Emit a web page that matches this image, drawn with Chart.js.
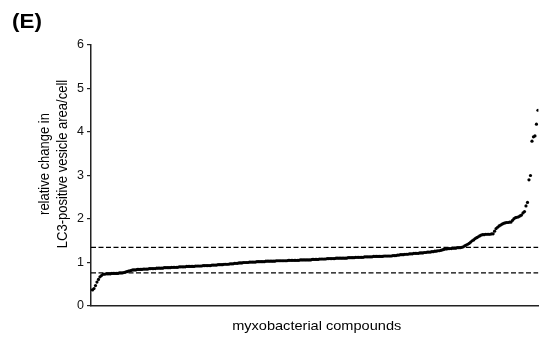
<!DOCTYPE html>
<html>
<head>
<meta charset="utf-8">
<script src="https://cdn.jsdelivr.net/npm/chart.js@4.4.1/dist/chart.umd.min.js"></script>
<style>
  html, body { margin: 0; padding: 0; background: #fff; }
  #wrap { width: 540px; height: 337px; position: relative; }
</style>
</head>
<body>
<div id="wrap"><canvas id="screen"></canvas></div>
<script>
// values sorted by rank
const relChange = [
  0.37, 0.40, 0.47, 0.55, 0.61, 0.67, 0.70, 0.73, 0.73, 0.74,
  0.74, 0.74, 0.74, 0.75, 0.75, 0.75, 0.75, 0.75, 0.76, 0.76,
  0.76, 0.77, 0.78, 0.79, 0.80, 0.81, 0.82, 0.83, 0.83, 0.83,
  0.84, 0.84, 0.84, 0.84, 0.85, 0.85, 0.85, 0.85, 0.86, 0.86,
  0.86, 0.86, 0.86, 0.87, 0.87, 0.87, 0.87, 0.87, 0.88, 0.88,
  0.88, 0.88, 0.88, 0.89, 0.89, 0.89, 0.89, 0.89, 0.90, 0.90,
  0.90, 0.90, 0.90, 0.91, 0.91, 0.91, 0.91, 0.91, 0.91, 0.92,
  0.92, 0.92, 0.92, 0.92, 0.93, 0.93, 0.93, 0.93, 0.93, 0.93,
  0.94, 0.94, 0.94, 0.94, 0.95, 0.95, 0.95, 0.95, 0.96, 0.96,
  0.96, 0.96, 0.97, 0.97, 0.97, 0.98, 0.98, 0.98, 0.99, 0.99,
  0.99, 1.00, 1.00, 1.00, 1.00, 1.01, 1.01, 1.01, 1.01, 1.01,
  1.02, 1.02, 1.02, 1.02, 1.02, 1.02, 1.03, 1.03, 1.03, 1.03,
  1.03, 1.03, 1.03, 1.04, 1.04, 1.04, 1.04, 1.04, 1.04, 1.04,
  1.04, 1.05, 1.05, 1.05, 1.05, 1.05, 1.05, 1.05, 1.05, 1.06,
  1.06, 1.06, 1.06, 1.06, 1.06, 1.06, 1.06, 1.07, 1.07, 1.07,
  1.07, 1.07, 1.08, 1.08, 1.08, 1.08, 1.08, 1.09, 1.09, 1.09,
  1.09, 1.09, 1.09, 1.10, 1.10, 1.10, 1.10, 1.10, 1.10, 1.10,
  1.10, 1.11, 1.11, 1.11, 1.11, 1.11, 1.12, 1.12, 1.12, 1.12,
  1.12, 1.12, 1.13, 1.13, 1.13, 1.13, 1.13, 1.13, 1.14, 1.14,
  1.14, 1.14, 1.14, 1.14, 1.14, 1.15, 1.15, 1.15, 1.15, 1.15,
  1.15, 1.16, 1.16, 1.16, 1.17, 1.17, 1.18, 1.18, 1.18, 1.19,
  1.19, 1.19, 1.20, 1.20, 1.20, 1.21, 1.21, 1.21, 1.21, 1.22,
  1.22, 1.22, 1.23, 1.23, 1.24, 1.24, 1.24, 1.25, 1.25, 1.26,
  1.26, 1.27, 1.27, 1.28, 1.29, 1.30, 1.31, 1.31, 1.32, 1.32,
  1.32, 1.33, 1.33, 1.33, 1.34, 1.34, 1.34, 1.35, 1.36, 1.38,
  1.40, 1.42, 1.44, 1.47, 1.50, 1.52, 1.55, 1.57, 1.59, 1.61,
  1.63, 1.64, 1.64, 1.65, 1.65, 1.65, 1.65, 1.66, 1.66, 1.72,
  1.78, 1.81, 1.84, 1.86, 1.88, 1.90, 1.91, 1.92, 1.92, 1.93,
  1.93, 1.97, 2.01, 2.03, 2.04, 2.05, 2.07, 2.09, 2.14, 2.17,
  2.30, 2.38, 2.90, 3.00, 3.79, 3.89, 3.91, 4.18, 4.50
];
const thresholds = [1.35, 0.76];
const yTicks = [0, 1, 2, 3, 4, 5, 6];

const FONT = 'Liberation Sans, Arial, Helvetica, sans-serif';
const STRETCH = 1.12; // the figure is a bit wider than tall
const xMin = -1;
const xMax = 298.3;

const points = relChange.map((v, i) => ({ x: i, y: v }));

const datasets = [{
  type: 'scatter',
  data: points,
  backgroundColor: '#000',
  borderWidth: 0,
  pointRadius: 1.6,
  pointHoverRadius: 1.6
}];

thresholds.forEach(t => {
  datasets.push({
    type: 'line',
    data: [{ x: xMin, y: t }, { x: xMax, y: t }],
    borderColor: '#000',
    borderWidth: 1.3,
    borderDash: [5, 2.5],
    pointRadius: 0,
    fill: false
  });
});

function stretchedText(c, txt, x, y, rot) {
  c.save();
  c.translate(x, y);
  c.scale(STRETCH, 1);
  if (rot) c.rotate(-Math.PI / 2);
  c.fillText(txt, 0, 0);
  c.restore();
}

// axis titles and panel letter
const textPlugin = {
  id: 'texts',
  afterDraw(chart) {
    const c = chart.ctx;
    const a = chart.chartArea;
    c.save();
    c.fillStyle = '#000';
    c.font = 'bold 20px ' + FONT;
    c.textAlign = 'left';
    c.textBaseline = 'middle';
    stretchedText(c, '(E)', 12, 22, false);

    c.font = '13px ' + FONT;
    c.textAlign = 'center';
    c.textBaseline = 'alphabetic';
    stretchedText(c, 'myxobacterial compounds', (a.left + a.right) / 2 + 2, 330, false);

    c.textBaseline = 'middle';
    stretchedText(c, 'relative change in', 45, 164, true);
    stretchedText(c, 'LC3-positive vesicle area/cell', 63, 164, true);
    c.restore();
  }
};

new Chart(document.getElementById('screen').getContext('2d'), {
  type: 'scatter',
  data: { datasets: datasets },
  plugins: [textPlugin],
  options: {
    responsive: true,
    maintainAspectRatio: false,
    animation: false,
    events: [],
    layout: { padding: { left: 0, right: -1.6, top: 45, bottom: 31 } },
    plugins: {
      legend: { display: false },
      tooltip: { enabled: false }
    },
    scales: {
      x: {
        type: 'linear',
        min: xMin,
        max: xMax,
        ticks: { display: false },
        grid: { display: false },
        border: { display: true, color: '#222', width: 1.5 },
        afterFit: s => { s.height = 0; }
      },
      y: {
        min: 0,
        max: 6,
        afterBuildTicks: s => { s.ticks = yTicks.map(v => ({ value: v })); },
        ticks: {
          color: '#111',
          font: { family: FONT, size: 12.5 },
          padding: 3
        },
        grid: {
          drawOnChartArea: false,
          drawTicks: true,
          tickLength: 4,
          color: '#222',
          lineWidth: 1.2
        },
        border: { display: true, color: '#222', width: 1.5 },
        afterFit: s => { s.width = 91; }
      }
    }
  }
});
</script>
</body>
</html>
